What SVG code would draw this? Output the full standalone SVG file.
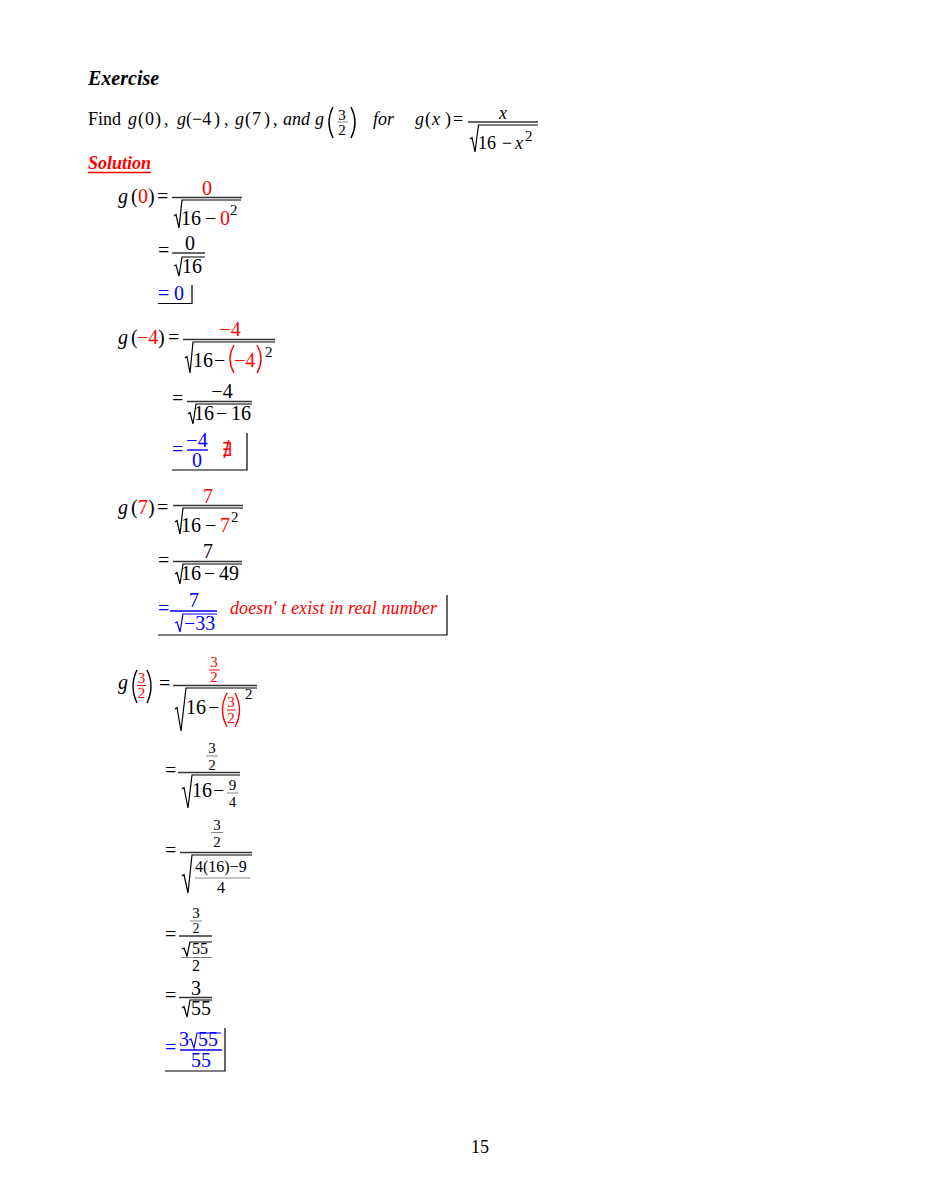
<svg xmlns="http://www.w3.org/2000/svg" width="927" height="1200" viewBox="0 0 927 1200">
<style>
text{font-family:"Liberation Serif","Times New Roman",serif;font-size:20px;fill:#000}
.h{font-size:18px}
.i{font-style:italic}
.r{fill:#f00}
.b{fill:#00f}
.s{font-size:15px}
.m{text-anchor:middle}
.bar{stroke:#333;stroke-width:1.4}
.rb{stroke:#f00;stroke-width:1}
.bb{stroke:#00f;stroke-width:1.4}
.gb{stroke:#888;stroke-width:1}
.rad{fill:none;stroke:#000;stroke-width:1.2}
.radb{fill:none;stroke:#00f;stroke-width:1.2}
.par{fill:none;stroke:#000;stroke-width:1.4}
.parr{fill:none;stroke:#f00;stroke-width:1.4}
.box{fill:none;stroke:#000;stroke-width:1.2}
</style>
<rect width="927" height="1200" fill="#fff"/>

<g id="header">
<text x="88" y="85" style="font-weight:bold;font-style:italic;font-size:20px">Exercise</text>
<text x="88" y="125" class="h">Find</text>
<text x="128" y="125" class="h i">g</text><text x="138" y="125" class="h">(</text><text x="145" y="125" class="h">0</text><text x="155" y="125" class="h">)</text><text x="164" y="125" class="h">,</text>
<text x="177" y="125" class="h i">g</text><text x="186" y="125" class="h">(</text><text x="192" y="125" class="h">−4</text><text x="214" y="125" class="h">)</text><text x="224" y="125" class="h">,</text>
<text x="235" y="125" class="h i">g</text><text x="245" y="125" class="h">(</text><text x="252" y="125" class="h">7</text><text x="264" y="125" class="h">)</text><text x="273" y="125" class="h">,</text>
<text x="283" y="125" class="h i">and</text>
<text x="315" y="125" class="h i">g</text>
<path class="par" d="M333,107 Q325,122.5 333,138"/>
<text x="342" y="120" class="s m">3</text><line class="gb" x1="337" y1="122" x2="348" y2="122"/><text x="342" y="135" class="s m">2</text>
<path class="par" d="M351,107 Q359,122.5 351,138"/>
<text x="373" y="125" class="h i">for</text>
<text x="415" y="125" class="h i">g</text><text x="425" y="125" class="h">(</text><text x="432" y="125" class="h i">x</text><text x="445" y="125" class="h">)</text><text x="453" y="125" class="h">=</text>
<text x="503" y="119" class="h i m">x</text>
<line class="bar" x1="468" y1="122" x2="538" y2="122"/>
<path class="rad" d="M470,139 L472,137.5 L475,152 L478.5,125 L538,125"/>
<text x="478" y="149" class="h">16</text><text x="502" y="149" class="h">−</text><text x="515" y="149" class="h i">x</text><text x="525" y="141" class="s">2</text>
<text x="88" y="169" class="h r" style="font-weight:bold;font-style:italic">Solution</text>
<line x1="88" y1="172.5" x2="151" y2="172.5" stroke="#f00" stroke-width="1.5"/>
</g>

<g id="g0">
<text x="118" y="203" class="i">g</text><text x="131" y="203">(</text><text x="138" y="203" class="r">0</text><text x="148" y="203">)</text><text x="157" y="203">=</text>
<text x="207" y="195" class="r m">0</text>
<line class="bar" x1="172" y1="197.5" x2="242" y2="197.5"/>
<path class="rad" d="M174,216 L176,214.5 L179,228 L182,200 L241,200"/>
<text x="181" y="225">16</text><text x="205" y="225">−</text><text x="220" y="225" class="r">0</text><text x="230" y="215" class="s">2</text>

<text x="158" y="257">=</text>
<text x="190" y="250" class="m">0</text>
<line class="bar" x1="172" y1="253" x2="205" y2="253"/>
<path class="rad" d="M174,266 L176,265 L179,276 L182,257 L205,257"/>
<text x="182" y="273">16</text>

<text x="158" y="300" class="b">=</text><text x="174" y="300" class="b">0</text>
<path class="box" d="M158,303.5 L192,303.5 L192,285"/>
</g>

<g id="gm4">
<text x="118" y="344" class="i">g</text><text x="131" y="344">(</text><text x="137" y="344" class="r">−4</text><text x="158" y="344">)</text><text x="168" y="344">=</text>
<text x="230" y="336" class="r m">−4</text>
<line class="bar" x1="183" y1="339.5" x2="275" y2="339.5"/>
<path class="rad" d="M185,358 L187,356.5 L190,373 L193,342 L275,342"/>
<text x="193" y="367">16</text><text x="214" y="367">−</text>
<path class="parr" d="M234,345 Q226,359 234,373"/>
<text x="234" y="367" class="r">−4</text>
<path class="parr" d="M257,345 Q265,359 257,373"/>
<text x="265" y="357" class="s">2</text>

<text x="172" y="405">=</text>
<text x="222" y="398" class="m">−4</text>
<line class="bar" x1="187" y1="401.5" x2="252" y2="401.5"/>
<path class="rad" d="M188,414 L190,412.5 L193,424 L196,404 L252,404"/>
<text x="194" y="420">16</text><text x="216" y="420">−</text><text x="231" y="420">16</text>

<text x="172" y="456" class="b">=</text>
<text x="197" y="447" class="b m">−4</text>
<line class="bb" x1="187" y1="450" x2="208" y2="450"/>
<text x="197" y="467" class="b m">0</text>
<text x="222" y="456" class="r" style="font-family:'DejaVu Serif',serif;font-size:19px">∄</text>
<path class="box" d="M172,470 L247,470 L247,433"/>
</g>

<g id="g7">
<text x="118" y="514" class="i">g</text><text x="131" y="514">(</text><text x="138" y="514" class="r">7</text><text x="148" y="514">)</text><text x="157" y="514">=</text>
<text x="208" y="503" class="r m">7</text>
<line class="bar" x1="173" y1="505.5" x2="243" y2="505.5"/>
<path class="rad" d="M175,522 L177,520.5 L180,534 L183,508 L243,508"/>
<text x="181" y="532">16</text><text x="205" y="532">−</text><text x="220" y="532" class="r">7</text><text x="231" y="522" class="s">2</text>

<text x="158" y="567">=</text>
<text x="208" y="558" class="m">7</text>
<line class="bar" x1="173" y1="561.5" x2="242" y2="561.5"/>
<path class="rad" d="M175,574 L177,572.5 L180,584 L183,564 L242,564"/>
<text x="181" y="580">16</text><text x="204" y="580">−</text><text x="219" y="580">49</text>

<text x="158" y="615" class="b">=</text>
<text x="194" y="607" class="b m">7</text>
<line class="bb" x1="170" y1="611" x2="217" y2="611"/>
<path class="radb" d="M175,623 L177,622 L180,632 L183,614 L217,614"/>
<text x="184" y="630" class="b">−33</text>
<text x="230" y="614" class="r i" style="font-size:18px" textLength="207" lengthAdjust="spacing">doesn' t exist in real number</text>
<path class="box" d="M158,635 L447,635 L447,595"/>
</g>

<g id="g32">
<text x="118" y="689" class="i">g</text>
<path class="par" d="M137,670 Q129,686 137,703"/>
<text x="141.5" y="683" class="r s m">3</text><line class="rb" x1="137" y1="685.5" x2="146" y2="685.5"/><text x="141.5" y="698" class="r s m">2</text>
<path class="par" d="M147,670 Q155,686 147,703"/>
<text x="159" y="690">=</text>
<text x="214" y="667" class="r s m">3</text><line class="rb" x1="209" y1="670" x2="220" y2="670"/><text x="214" y="682" class="r s m">2</text>
<line class="bar" x1="173" y1="685.5" x2="257" y2="685.5"/>
<path class="rad" d="M175,709 L177,707.5 L181,731 L186,688 L257,688"/>
<text x="186" y="714">16</text><text x="208" y="714">−</text>
<path class="parr" d="M227,693 Q218,710 227,727"/>
<text x="231" y="707" class="r s m">3</text><line class="rb" x1="227" y1="710" x2="236" y2="710"/><text x="231" y="723" class="r s m">2</text>
<path class="parr" d="M235,693 Q244,710 235,727"/>
<text x="245" y="699" class="s">2</text>

<text x="165" y="777">=</text>
<text x="212" y="753" class="s m">3</text><line class="gb" x1="206" y1="756" x2="218" y2="756"/><text x="212" y="770" class="s m">2</text>
<line class="bar" x1="178" y1="772.5" x2="240" y2="772.5"/>
<path class="rad" d="M182,789 L184,787.5 L188,808 L192,775 L240,775"/>
<text x="192" y="797">16</text><text x="213" y="797">−</text>
<text x="232.5" y="790" class="s m">9</text><line class="gb" x1="227" y1="793" x2="238" y2="793"/><text x="232.5" y="807" class="s m">4</text>

<text x="165" y="857">=</text>
<text x="217" y="830" class="s m">3</text><line class="gb" x1="211" y1="832.5" x2="223" y2="832.5"/><text x="217" y="847" class="s m">2</text>
<line class="bar" x1="180" y1="852.5" x2="252" y2="852.5"/>
<path class="rad" d="M182,876 L184,874.5 L188,893 L192,855 L252,855"/>
<text x="195" y="872" style="font-size:16px">4(16)−9</text>
<line class="gb" x1="195" y1="878" x2="250" y2="878"/>
<text x="221" y="893" class="m" style="font-size:16px">4</text>

<text x="165" y="941">=</text>
<text x="196" y="918" class="s m">3</text><line class="gb" x1="190" y1="921" x2="202" y2="921"/><text x="196" y="933" class="m" style="font-size:14px">2</text>
<line class="bar" x1="179" y1="936" x2="212" y2="936"/>
<path class="rad" d="M182,949 L184,948 L187,956 L190,942 L212,942"/>
<text x="192" y="954" style="font-size:16px">55</text>
<line class="gb" x1="181" y1="957.5" x2="212" y2="957.5"/>
<text x="196" y="971" class="m" style="font-size:16px">2</text>

<text x="165" y="1002">=</text>
<text x="196" y="995" class="m">3</text>
<line class="bar" x1="179" y1="997.5" x2="212" y2="997.5"/>
<path class="rad" d="M182,1008 L184,1006.5 L187,1017 L190,1000 L212,1000"/>
<text x="191" y="1015">55</text>

<text x="165" y="1054" class="b">=</text>
<text x="179" y="1046" class="b">3</text>
<path class="radb" d="M189,1040 L191,1039 L194,1048 L197,1033 L221,1033"/>
<text x="198" y="1046" class="b">55</text>
<line class="bb" x1="180" y1="1050" x2="222" y2="1050"/>
<text x="201" y="1067" class="b m">55</text>
<path class="box" d="M165,1071 L225,1071 L225,1028"/>
</g>

<text x="480" y="1153" class="h m">15</text>
</svg>
